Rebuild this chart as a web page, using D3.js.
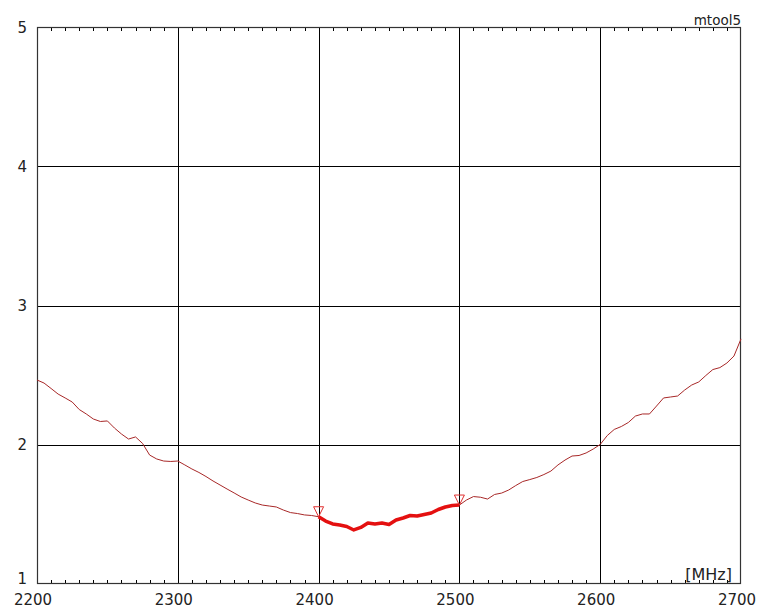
<!DOCTYPE html>
<html>
<head>
<meta charset="utf-8">
<script src="https://cdn.jsdelivr.net/npm/d3@7"></script>
<style>
  body { margin: 0; background: #fff; }
  svg { display: block; }
</style>
</head>
<body>
<div class="graph"></div>
<script>
var freqs = [2200,2205,2210,2215,2220,2225,2230,2235,2240,2245,
             2250,2255,2260,2265,2270,2275,2280,2285,2290,2295,
             2300,2305,2310,2315,2320,2325,2330,2335,2340,2345,
             2350,2355,2360,2365,2370,2375,2380,2385,2390,2395,
             2400,2405,2410,2415,2420,2425,2430,2435,2440,2445,
             2450,2455,2460,2465,2470,2475,2480,2485,2490,2495,
             2500,2505,2510,2515,2520,2525,2530,2535,2540,2545,
             2550,2555,2560,2565,2570,2575,2580,2585,2590,2595,
             2600,2605,2610,2615,2620,2625,2630,2635,2640,2645,
             2650,2655,2660,2665,2670,2675,2680,2685,2690,2695,
             2700];
var vswr = [2.465,2.443,2.404,2.364,2.336,2.307,2.253,2.221,2.185,2.167,
            2.171,2.120,2.077,2.041,2.056,2.009,1.926,1.898,1.883,1.880,
            1.883,1.855,1.826,1.801,1.772,1.740,1.711,1.682,1.654,1.625,
            1.603,1.582,1.567,1.560,1.553,1.531,1.513,1.506,1.496,1.492,
            1.483,1.452,1.431,1.424,1.413,1.388,1.406,1.438,1.431,1.438,
            1.427,1.460,1.474,1.492,1.488,1.499,1.510,1.535,1.553,1.564,
            1.567,1.603,1.628,1.623,1.610,1.643,1.653,1.675,1.707,1.736,
            1.750,1.765,1.786,1.811,1.855,1.890,1.919,1.923,1.941,1.969,
            2.002,2.066,2.110,2.131,2.160,2.206,2.221,2.221,2.278,2.336,
            2.343,2.350,2.393,2.429,2.451,2.497,2.540,2.554,2.587,2.637,
            2.760];

// band markers
var markerFreqs = [2400, 2500];

var xTicks = [2200, 2300, 2400, 2500, 2600, 2700];
var yTicks = [1, 2, 3, 4, 5];

function drawChart() {
  let width = 761;
  let height = 609;
  let pLeft = 37, pTop = 27, pRight = 741, pBottom = 584;

  let svg = d3.select(".graph").append("svg")
    .attr("width", width)
    .attr("height", height);

  let x = d3.scaleLinear().domain([2200, 2700]).range([pLeft, pRight]);
  let y = d3.scaleLinear().domain([1, 5]).range([pBottom, pTop]);

  let font = "'DejaVu Sans', Verdana, sans-serif";

  //grid lines
  let grid = svg.append("g").attr("stroke", "#000").attr("stroke-width", 1);
  grid.selectAll(".vx")
    .data(xTicks.slice(1, -1))
    .enter().append("line")
    .attr("x1", d => Math.round(x(d)) + 0.5)
    .attr("x2", d => Math.round(x(d)) + 0.5)
    .attr("y1", pTop)
    .attr("y2", pBottom);
  grid.selectAll(".hy")
    .data(yTicks.slice(1, -1))
    .enter().append("line")
    .attr("y1", d => Math.round(y(d)) + 0.5)
    .attr("y2", d => Math.round(y(d)) + 0.5)
    .attr("x1", pLeft)
    .attr("x2", pRight);

  //minor ticks every 10 MHz, top and bottom, pointing inward
  let minor = d3.range(2210, 2700, 10).filter(f => f % 100 != 0);
  grid.selectAll(".tb")
    .data(minor)
    .enter().append("line")
    .attr("x1", d => Math.round(x(d)) + 0.5)
    .attr("x2", d => Math.round(x(d)) + 0.5)
    .attr("y1", pBottom)
    .attr("y2", pBottom - 4);
  grid.selectAll(".tt")
    .data(minor)
    .enter().append("line")
    .attr("x1", d => Math.round(x(d)) + 0.5)
    .attr("x2", d => Math.round(x(d)) + 0.5)
    .attr("y1", pTop)
    .attr("y2", pTop + 4);

  //frame
  svg.append("rect")
    .attr("x", pLeft + 0.5)
    .attr("y", pTop + 0.5)
    .attr("width", pRight - pLeft - 1)
    .attr("height", pBottom - pTop - 1)
    .attr("fill", "none")
    .attr("stroke", "#333")
    .attr("stroke-width", 1.2);

  //axis labels
  svg.append("g").selectAll("text")
    .data(yTicks)
    .enter().append("text")
    .attr("x", 27)
    .attr("y", d => d == 1 ? y(d) : y(d) + 5.5)
    .attr("text-anchor", "end")
    .attr("font-family", font)
    .attr("font-size", 15)
    .attr("fill", "#222")
    .text(d => d);

  svg.append("g").selectAll("text")
    .data(xTicks)
    .enter().append("text")
    .attr("x", d => x(d) - 4)
    .attr("y", 605)
    .attr("text-anchor", "middle")
    .attr("font-family", font)
    .attr("font-size", 15)
    .attr("fill", "#222")
    .text(d => d);

  svg.append("text")
    .attr("x", 741)
    .attr("y", 25)
    .attr("text-anchor", "end")
    .attr("font-family", font)
    .attr("font-size", 13.5)
    .attr("fill", "#222")
    .text("mtool5");

  svg.append("text")
    .attr("x", 732)
    .attr("y", 580)
    .attr("text-anchor", "end")
    .attr("font-family", font)
    .attr("font-size", 16)
    .attr("fill", "#222")
    .text("[MHz]");

  //trace
  let points = freqs.map((f, i) => [f, vswr[i]]);
  let line = d3.line().x(d => x(d[0])).y(d => y(d[1]));

  svg.append("path")
    .attr("d", line(points))
    .attr("fill", "none")
    .attr("stroke", "#a82828")
    .attr("stroke-width", 1);

  let band = points.filter(d => d[0] >= markerFreqs[0] && d[0] <= markerFreqs[1]);
  svg.append("path")
    .attr("d", line(band))
    .attr("fill", "none")
    .attr("stroke", "#e41010")
    .attr("stroke-width", 3.5)
    .attr("stroke-linejoin", "round");

  //triangle markers, tip on the trace
  svg.append("g").selectAll("path")
    .data(markerFreqs)
    .enter().append("path")
    .attr("d", function(f) {
      let v = vswr[freqs.indexOf(f)];
      let px = x(f), py = y(v);
      return "M" + px + "," + py + "L" + (px - 5) + "," + (py - 10) + "L" + (px + 5) + "," + (py - 10) + "Z";
    })
    .attr("fill", "none")
    .attr("stroke", "#e03030")
    .attr("stroke-width", 1);
}

drawChart();
</script>
</body>
</html>
